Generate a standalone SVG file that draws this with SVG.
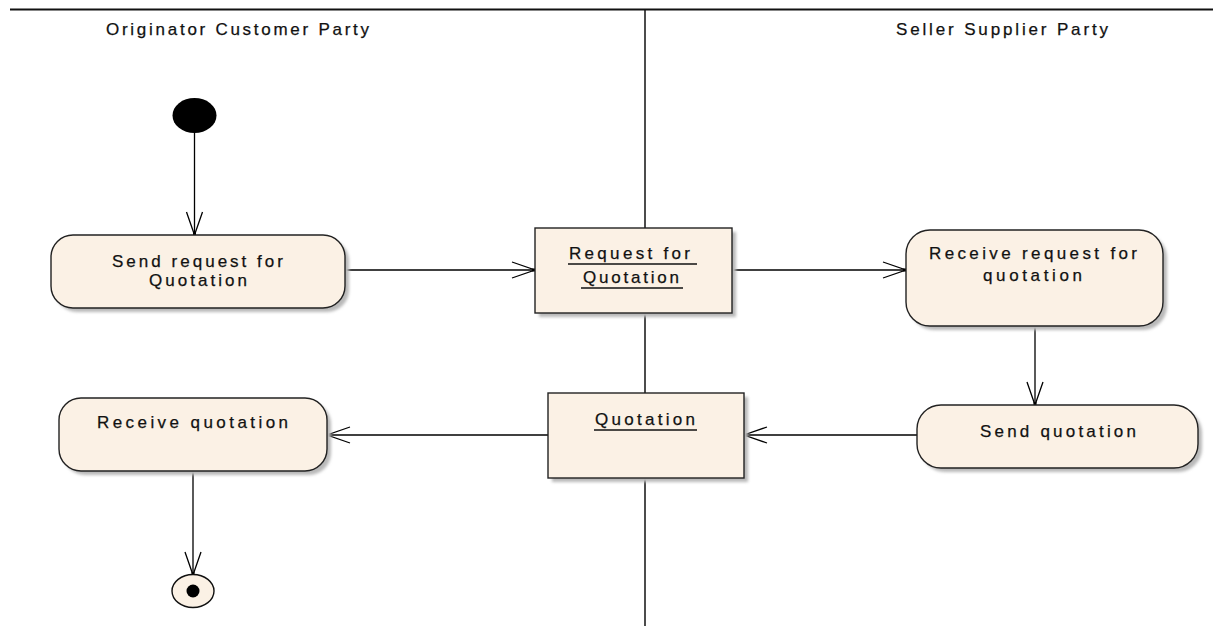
<svg xmlns="http://www.w3.org/2000/svg" width="1213" height="626" viewBox="0 0 1213 626">
  <style>
    .lbl { font-family: "Liberation Sans", Arial, sans-serif; font-size: 17px; fill: #111; stroke: #111; stroke-width: 0.25; }
    .act { fill: #fbf1e5; stroke: #222; stroke-width: 1.4; }
    .shadow { fill: #b9b9b9; filter: url(#soft); }
    .edge { fill: none; stroke: #000; stroke-width: 1.3; }
    .ul { stroke: #111; stroke-width: 1.4; }
  </style>
  <defs>
    <filter id="soft" x="-10%" y="-10%" width="120%" height="130%">
      <feGaussianBlur stdDeviation="1.5"/>
    </filter>
    <marker id="open" markerUnits="userSpaceOnUse" markerWidth="28" markerHeight="20" refX="26" refY="9" orient="auto">
      <path d="M3,1 L26,9 L3,17" fill="none" stroke="#000" stroke-width="1.3"/>
      <rect x="23" y="7.5" width="3" height="3" fill="#000"/>
    </marker>
  </defs>

  <rect width="1213" height="626" fill="#fff"/>

  <!-- swimlane frame -->
  <g id="lanes">
    <line x1="10" y1="9.5" x2="1213" y2="9.5" stroke="#111" stroke-width="2"/>
    <line x1="645" y1="10" x2="645" y2="626" stroke="#111" stroke-width="1.5"/>
    <text class="lbl" x="106" y="35" textLength="263" lengthAdjust="spacing">Originator Customer Party</text>
    <text class="lbl" x="896" y="35" textLength="212" lengthAdjust="spacing">Seller Supplier Party</text>
  </g>

  <!-- connectors -->
  <g id="connectors">
    <line class="edge" x1="194.5" y1="132" x2="194.5" y2="235" marker-end="url(#open)"/>
    <line class="edge" x1="345" y1="270" x2="535" y2="270" marker-end="url(#open)"/>
    <line class="edge" x1="732" y1="270" x2="906" y2="270" marker-end="url(#open)"/>
    <line class="edge" x1="1035" y1="326" x2="1035" y2="405" marker-end="url(#open)"/>
    <line class="edge" x1="917" y1="435" x2="744" y2="435" marker-end="url(#open)"/>
    <line class="edge" x1="548" y1="435" x2="327" y2="435" marker-end="url(#open)"/>
    <line class="edge" x1="193" y1="471" x2="193" y2="575" marker-end="url(#open)"/>
  </g>

  <!-- start -->
  <g id="initial">
    <ellipse cx="194.5" cy="115.5" rx="22" ry="17.5" fill="#000"/>
  </g>

  <g id="send-request">
    <rect class="shadow" x="55" y="239" width="294" height="73" rx="22"/>
    <rect class="act" x="51" y="235" width="294" height="73" rx="22"/>
    <text class="lbl" x="112" y="267" textLength="171" lengthAdjust="spacing">Send request for</text>
    <text class="lbl" x="149" y="286" textLength="98" lengthAdjust="spacing">Quotation</text>
  </g>

  <g id="request-object">
    <rect class="shadow" x="539" y="232" width="197" height="85"/>
    <rect class="act" x="535" y="228" width="197" height="85"/>
    <text class="lbl" x="569" y="259" textLength="121" lengthAdjust="spacing">Request for</text>
    <line class="ul" x1="568" y1="264" x2="697" y2="264"/>
    <text class="lbl" x="583" y="283" textLength="96" lengthAdjust="spacing">Quotation</text>
    <line class="ul" x1="581" y1="288" x2="683" y2="288"/>
  </g>

  <g id="receive-request">
    <rect class="shadow" x="910" y="234" width="257" height="96" rx="24"/>
    <rect class="act" x="906" y="230" width="257" height="96" rx="24"/>
    <text class="lbl" x="929" y="259" textLength="208" lengthAdjust="spacing">Receive request for</text>
    <text class="lbl" x="983" y="281" textLength="99" lengthAdjust="spacing">quotation</text>
  </g>

  <g id="send-quotation">
    <rect class="shadow" x="921" y="409" width="281" height="63" rx="24"/>
    <rect class="act" x="917" y="405" width="281" height="63" rx="24"/>
    <text class="lbl" x="980" y="437" textLength="156" lengthAdjust="spacing">Send quotation</text>
  </g>

  <g id="quotation-object">
    <rect class="shadow" x="552" y="397" width="196" height="85"/>
    <rect class="act" x="548" y="393" width="196" height="85"/>
    <text class="lbl" x="595" y="425" textLength="100" lengthAdjust="spacing">Quotation</text>
    <line class="ul" x1="594" y1="430" x2="697" y2="430"/>
  </g>

  <g id="receive-quotation">
    <rect class="shadow" x="63" y="402" width="268" height="73" rx="22"/>
    <rect class="act" x="59" y="398" width="268" height="73" rx="22"/>
    <text class="lbl" x="97" y="428" textLength="191" lengthAdjust="spacing">Receive quotation</text>
  </g>

  <!-- end -->
  <g id="final">
    <ellipse cx="193" cy="591" rx="21" ry="16.5" fill="#fbf1e5" stroke="#111" stroke-width="1.4"/>
    <circle cx="193" cy="591" r="6.5" fill="#000"/>
  </g>
</svg>
